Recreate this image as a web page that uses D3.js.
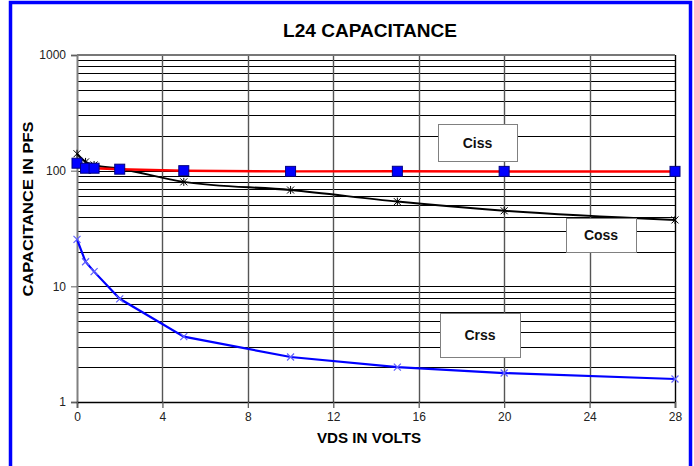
<!DOCTYPE html>
<html><head><meta charset="utf-8">
<script src="https://cdn.jsdelivr.net/npm/d3@7"></script>
<style>body{margin:0;background:#fff}svg{display:block}text{font-family:"Liberation Sans",Arial,sans-serif}</style>
</head><body>
<svg id="c" width="694" height="466"></svg>
<script>
const vds  = [0, 0.4, 0.8, 2, 5, 10, 15, 20, 28];
const ciss = [116, 105, 105, 103, 100, 98.6, 98.8, 98.6, 98.6];
const coss = [140, 119, 112, 104, 80, 68, 54, 45, 37.5];
const crss = [25.5, 16.3, 13.4, 7.8, 3.67, 2.45, 2.0, 1.78, 1.58];
const xTicks = [0, 4, 8, 12, 16, 20, 24, 28];
const yTicks = [1, 10, 100, 1000];
const labels = [{name:"Ciss", x:[438,517], y:[124,161]}, {name:"Coss", x:[566,636], y:[218,252]}, {name:"Crss", x:[440,520], y:[313,357]}];

const svg = d3.select("#c");
svg.append("rect").attr("x",10.5).attr("y",2.5).attr("width",680).attr("height",480).attr("fill","none").attr("stroke","#0000ff").attr("stroke-width",3.5);

const x = d3.scaleLinear().domain([0,28]).range([77,675]);
const y = d3.scaleLog().domain([1,1000]).range([402,55]);

// horizontal grid on every minor log tick
const minor = [];
for (let d of [1,10,100]) for (let k=2;k<=9;k++) minor.push(d*k);
svg.append("g").selectAll("line").data(minor.concat([10,100])).join("line")
  .attr("x1",x(0)).attr("x2",x(28)).attr("y1",d=>Math.round(y(d))+0.5).attr("y2",d=>Math.round(y(d))+0.5)
  .attr("stroke","#000").attr("stroke-width",1);
// vertical grid
svg.append("g").selectAll("line").data(xTicks.slice(1)).join("line")
  .attr("x1",d=>Math.round(x(d))+0.5).attr("x2",d=>Math.round(x(d))+0.5).attr("y1",y(1000)).attr("y2",y(1))
  .attr("stroke",d=>d===28?"#000":"#555").attr("stroke-width",1.4);
// top line
svg.append("line").attr("x1",x(0)).attr("x2",x(28)).attr("y1",y(1000)).attr("y2",y(1000)).attr("stroke","#777").attr("stroke-width",2);

// axes
const yAxis = d3.axisLeft(y).tickValues(yTicks).tickFormat(d3.format("d")).tickSize(6).tickPadding(5);
const gy = svg.append("g").attr("transform",`translate(${x(0)},0)`).call(yAxis);
gy.select(".domain").attr("stroke","#808080").attr("stroke-width",2);
gy.selectAll(".tick line").attr("stroke","#606060");
gy.selectAll("text").attr("font-size",12).attr("fill","#222");

const xAxis = d3.axisBottom(x).tickValues(xTicks).tickSize(6).tickPadding(4);
const gx = svg.append("g").attr("transform",`translate(0,${y(1)})`).call(xAxis);
gx.select(".domain").attr("stroke","#000").attr("stroke-width",1.5);
gx.selectAll(".tick line").attr("stroke","#606060").attr("stroke-width",1.3);
gx.selectAll("text").attr("font-size",12).attr("fill","#222");

// series
const pts = vals => vds.map((v,i)=>[x(v), y(vals[i])]);
svg.append("path").attr("d",d3.line()(pts(crss))).attr("fill","none").attr("stroke","#0000ff").attr("stroke-width",2.2);
svg.append("path").attr("d",d3.line().curve(d3.curveMonotoneX)(pts(coss))).attr("fill","none").attr("stroke","#000").attr("stroke-width",2);
svg.append("path").attr("d",d3.line()(pts(ciss))).attr("fill","none").attr("stroke","#ff0000").attr("stroke-width",2.5);

// markers
svg.append("g").selectAll("path").data(pts(crss)).join("path")
  .attr("d",d=>`M${d[0]-3.5},${d[1]-3.5}L${d[0]+3.5},${d[1]+3.5}M${d[0]-3.5},${d[1]+3.5}L${d[0]+3.5},${d[1]-3.5}`)
  .attr("stroke","#6060ff").attr("stroke-width",1.2);
svg.append("g").selectAll("path").data(pts(coss)).join("path")
  .attr("d",d=>`M${d[0]-3.5},${d[1]-3.5}L${d[0]+3.5},${d[1]+3.5}M${d[0]-3.5},${d[1]+3.5}L${d[0]+3.5},${d[1]-3.5}M${d[0]},${d[1]-4}L${d[0]},${d[1]+4}`)
  .attr("stroke","#000").attr("stroke-width",1);
svg.append("g").selectAll("rect").data(pts(ciss)).join("rect")
  .attr("x",d=>d[0]-5).attr("y",d=>d[1]-5).attr("width",10).attr("height",10)
  .attr("fill","#0000ff").attr("stroke","#000080").attr("stroke-width",1);

// label boxes
const lb = svg.append("g").selectAll("g").data(labels).join("g");
lb.append("rect").attr("x",d=>d.x[0]+0.5).attr("y",d=>d.y[0]+0.5).attr("width",d=>d.x[1]-d.x[0]).attr("height",d=>d.y[1]-d.y[0])
  .attr("fill","#fff").attr("stroke","#808080").attr("stroke-width",1);
lb.append("text").attr("x",d=>(d.x[0]+d.x[1])/2).attr("y",d=>(d.y[0]+d.y[1])/2+5).attr("text-anchor","middle")
  .attr("font-size",14).attr("font-weight","bold").attr("fill","#111").text(d=>d.name);

// titles
svg.append("text").attr("x",370).attr("y",37).attr("text-anchor","middle").attr("font-size",18).attr("font-weight","bold")
  .attr("textLength",174).attr("lengthAdjust","spacingAndGlyphs").text("L24 CAPACITANCE");
svg.append("text").attr("x",369).attr("y",443).attr("text-anchor","middle").attr("font-size",14).attr("font-weight","bold")
  .attr("textLength",104).attr("lengthAdjust","spacingAndGlyphs").text("VDS IN VOLTS");
svg.append("text").attr("transform","translate(33,209) rotate(-90)").attr("text-anchor","middle").attr("font-size",14).attr("font-weight","bold")
  .attr("textLength",175).attr("lengthAdjust","spacingAndGlyphs").text("CAPACITANCE IN PFS");
</script>
</body></html>
